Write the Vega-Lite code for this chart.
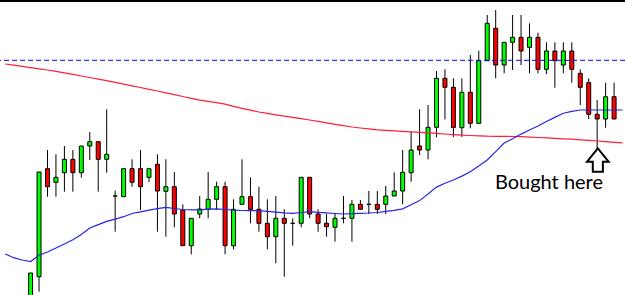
{
  "$schema": "https://vega.github.io/schema/vega-lite/v6.json",
  "width": 625,
  "height": 295,
  "padding": 0,
  "autosize": {"type": "none"},
  "background": "#ffffff",
  "config": {"view": {"stroke": null}},
  "datasets": {
    "candles": [
      {"i":1,"open":2,"high":27,"low":-2,"close":27},
      {"i":2,"open":23.3,"high":128,"low":8.3,"close":128},
      {"i":3,"open":131.3,"high":150,"low":103.3,"close":113.3},
      {"i":4,"open":117.7,"high":145.7,"low":103.3,"close":122.7},
      {"i":5,"open":127.3,"high":154,"low":108.3,"close":140.7},
      {"i":6,"open":140.7,"high":150,"low":108.3,"close":127.3},
      {"i":7,"open":127.3,"high":154,"low":122.3,"close":154},
      {"i":8,"open":154,"high":168,"low":140,"close":158.3},
      {"i":9,"open":158.3,"high":158.3,"low":108.3,"close":140.7},
      {"i":10,"open":140.7,"high":190.7,"low":127.3,"close":145.7},
      {"i":11,"open":104,"high":109.3,"low":68.3,"close":104},
      {"i":12,"open":103.3,"high":131.3,"low":103.3,"close":131.3},
      {"i":13,"open":131.3,"high":140.7,"low":113.3,"close":117.7},
      {"i":14,"open":131.3,"high":150,"low":90,"close":113.3},
      {"i":15,"open":122.7,"high":131.3,"low":117.7,"close":131.3},
      {"i":16,"open":135.7,"high":145.7,"low":68.3,"close":109},
      {"i":17,"open":108.7,"high":140.7,"low":63.3,"close":113.3},
      {"i":18,"open":113.3,"high":128,"low":72.7,"close":86},
      {"i":19,"open":90,"high":95.7,"low":54.3,"close":54.3},
      {"i":20,"open":54.3,"high":81.7,"low":45.7,"close":81.7},
      {"i":21,"open":86,"high":104,"low":81.7,"close":91},
      {"i":22,"open":90.7,"high":128,"low":81.7,"close":100.7},
      {"i":23,"open":100.7,"high":118.3,"low":90,"close":113.3},
      {"i":24,"open":113.3,"high":118.3,"low":45.7,"close":54.3},
      {"i":25,"open":54.3,"high":100.7,"low":50.7,"close":90.7},
      {"i":26,"open":95.7,"high":140.7,"low":95.7,"close":103.3},
      {"i":27,"open":103.3,"high":122.7,"low":76.7,"close":90.7},
      {"i":28,"open":90.7,"high":113.3,"low":68.3,"close":76.7},
      {"i":29,"open":76.7,"high":100.7,"low":50.7,"close":63.3},
      {"i":30,"open":63.3,"high":104,"low":36.7,"close":81.7},
      {"i":31,"open":81.7,"high":90.7,"low":23.3,"close":76.7},
      {"i":32,"open":76.7,"high":81.7,"low":54.3,"close":76.7},
      {"i":33,"open":76.7,"high":122.7,"low":72.7,"close":122.7},
      {"i":34,"open":122.7,"high":122.7,"low":81.7,"close":86},
      {"i":35,"open":86,"high":90.7,"low":68.3,"close":76.7},
      {"i":36,"open":76.7,"high":86,"low":63.3,"close":73.3},
      {"i":37,"open":72.7,"high":86,"low":58.3,"close":81.7},
      {"i":38,"open":81.7,"high":104,"low":76.7,"close":81.7},
      {"i":39,"open":81.7,"high":100,"low":58.3,"close":95.7},
      {"i":40,"open":95.7,"high":100,"low":90.7,"close":90.7},
      {"i":41,"open":95.7,"high":109,"low":86,"close":95.7},
      {"i":42,"open":95.7,"high":109,"low":86,"close":90.7},
      {"i":43,"open":95.7,"high":114,"low":86,"close":104},
      {"i":44,"open":104,"high":127.7,"low":104,"close":109},
      {"i":45,"open":109,"high":150,"low":95.7,"close":127.7},
      {"i":46,"open":127.3,"high":168.3,"low":118.3,"close":150},
      {"i":47,"open":154,"high":190.7,"low":145,"close":150},
      {"i":48,"open":150,"high":195,"low":140.7,"close":172.7},
      {"i":49,"open":172.7,"high":229,"low":162.7,"close":221.7},
      {"i":50,"open":221.7,"high":230.7,"low":180.5,"close":212.7},
      {"i":51,"open":212.7,"high":221.7,"low":163,"close":172.5},
      {"i":52,"open":172.3,"high":221.7,"low":163,"close":207.7},
      {"i":53,"open":207.7,"high":245,"low":171.7,"close":176.7},
      {"i":54,"open":176.7,"high":249.3,"low":176.7,"close":239.3},
      {"i":55,"open":239.3,"high":285,"low":239.3,"close":276.7},
      {"i":56,"open":271.7,"high":290,"low":221.7,"close":235},
      {"i":57,"open":235,"high":257.7,"low":226.7,"close":257.7},
      {"i":58,"open":257.7,"high":285,"low":230,"close":262.7},
      {"i":59,"open":262.7,"high":285,"low":235,"close":249},
      {"i":60,"open":252.7,"high":276.7,"low":226.7,"close":262.7},
      {"i":61,"open":262.7,"high":267.3,"low":226.7,"close":230.7},
      {"i":62,"open":230.7,"high":257.7,"low":226,"close":249},
      {"i":63,"open":249,"high":257.7,"low":212.3,"close":239.3},
      {"i":64,"open":235,"high":257.7,"low":226.7,"close":249},
      {"i":65,"open":249,"high":257.7,"low":217.3,"close":230.7},
      {"i":66,"open":226.7,"high":230.7,"low":195,"close":212.7},
      {"i":67,"open":217.3,"high":221.7,"low":181,"close":185.7},
      {"i":68,"open":185.7,"high":200,"low":150.7,"close":181},
      {"i":69,"open":181,"high":217.3,"low":172.3,"close":203.3},
      {"i":70,"open":203.3,"high":217.3,"low":181,"close":181}
    ],
    "ma": [
      {"i":-2,"slow":236,"fast":46},
      {"i":-1,"slow":234.8,"fast":42.3},
      {"i":0,"slow":233.6,"fast":40},
      {"i":1,"slow":232.4,"fast":38.5},
      {"i":2,"slow":231.2,"fast":44.7},
      {"i":3,"slow":230,"fast":48},
      {"i":4,"slow":228.7,"fast":52},
      {"i":5,"slow":227.1,"fast":56},
      {"i":6,"slow":225.6,"fast":60.3},
      {"i":7,"slow":224,"fast":65.5},
      {"i":8,"slow":222.5,"fast":72},
      {"i":9,"slow":220.9,"fast":75.4},
      {"i":10,"slow":219.3,"fast":78.6},
      {"i":11,"slow":217.6,"fast":80.9},
      {"i":12,"slow":215.9,"fast":83.3},
      {"i":13,"slow":214.2,"fast":86.5},
      {"i":14,"slow":212.5,"fast":88.2},
      {"i":15,"slow":210.7,"fast":89.9},
      {"i":16,"slow":209,"fast":91.3},
      {"i":17,"slow":207.2,"fast":92.6},
      {"i":18,"slow":205.3,"fast":91.5},
      {"i":19,"slow":203.5,"fast":90.5},
      {"i":20,"slow":201.6,"fast":90.2},
      {"i":21,"slow":199.8,"fast":90.2},
      {"i":22,"slow":198.6,"fast":90.8},
      {"i":23,"slow":197.4,"fast":91.1},
      {"i":24,"slow":195.8,"fast":90.5},
      {"i":25,"slow":193.7,"fast":89.8},
      {"i":26,"slow":191.7,"fast":89.5},
      {"i":27,"slow":189.8,"fast":89.4},
      {"i":28,"slow":188,"fast":89.3},
      {"i":29,"slow":186.7,"fast":88.7},
      {"i":30,"slow":185.2,"fast":87.9},
      {"i":31,"slow":183.8,"fast":87.1},
      {"i":32,"slow":182.6,"fast":86.7},
      {"i":33,"slow":181.3,"fast":87.5},
      {"i":34,"slow":180,"fast":88.3},
      {"i":35,"slow":178.6,"fast":87.6},
      {"i":36,"slow":177.1,"fast":87.1},
      {"i":37,"slow":175.7,"fast":86.5},
      {"i":38,"slow":174.3,"fast":86},
      {"i":39,"slow":173,"fast":86.4},
      {"i":40,"slow":172,"fast":86.7},
      {"i":41,"slow":171.1,"fast":87},
      {"i":42,"slow":170.2,"fast":87.5},
      {"i":43,"slow":169.6,"fast":88.6},
      {"i":44,"slow":169.1,"fast":89.7},
      {"i":45,"slow":168.6,"fast":91.2},
      {"i":46,"slow":168.2,"fast":95.2},
      {"i":47,"slow":167.6,"fast":99.4},
      {"i":48,"slow":167.1,"fast":106},
      {"i":49,"slow":166.6,"fast":112.9},
      {"i":50,"slow":166,"fast":116.7},
      {"i":51,"slow":165.4,"fast":120},
      {"i":52,"slow":164.9,"fast":123.9},
      {"i":53,"slow":164.5,"fast":128.3},
      {"i":54,"slow":164.1,"fast":134.1},
      {"i":55,"slow":163.8,"fast":140},
      {"i":56,"slow":163.7,"fast":148.4},
      {"i":57,"slow":163.6,"fast":157},
      {"i":58,"slow":163.5,"fast":161.2},
      {"i":59,"slow":163.3,"fast":165.9},
      {"i":60,"slow":162.9,"fast":170},
      {"i":61,"slow":162.5,"fast":174},
      {"i":62,"slow":162.1,"fast":178.5},
      {"i":63,"slow":161.6,"fast":182.6},
      {"i":64,"slow":161.2,"fast":186.8},
      {"i":65,"slow":160.8,"fast":188.7},
      {"i":66,"slow":160.2,"fast":190},
      {"i":67,"slow":159.6,"fast":190},
      {"i":68,"slow":159,"fast":190},
      {"i":69,"slow":158.4,"fast":190},
      {"i":70,"slow":157.7,"fast":190},
      {"i":71,"slow":157.1,"fast":190}
    ],
    "levels": [
      {"level": 239.7, "kind": "resistance"}
    ],
    "frame": [
      {"top": 300}
    ],
    "notes": [
      {"i":68.08,"v":140,"label":"Bought here","ti":62.3,"tv":110.7}
    ]
  },
  "layer": [
    {
      "data": {"name": "candles"},
      "mark": {"type": "rule", "color": "#000000", "strokeWidth": 1, "clip": true},
      "encoding": {
        "x": {"field": "i", "type": "quantitative", "axis": null,
              "scale": {"domain": [-2.025, 70.7], "nice": false, "zero": false}},
        "y": {"field": "low", "type": "quantitative", "axis": null,
              "scale": {"domain": [5, 300], "nice": false, "zero": false}},
        "y2": {"field": "high"}
      }
    },
    {
      "data": {"name": "candles"},
      "mark": {"type": "bar", "width": 4, "stroke": "#000000", "strokeWidth": 1, "clip": true},
      "encoding": {
        "x": {"field": "i", "type": "quantitative"},
        "y": {"field": "open", "type": "quantitative"},
        "y2": {"field": "close"},
        "fill": {"condition": {"test": "datum.close >= datum.open", "value": "#00ff00"}, "value": "#ff0000"}
      }
    },
    {
      "data": {"name": "ma"},
      "mark": {"type": "line", "color": "#ff1f3a", "strokeWidth": 1.2, "clip": true},
      "encoding": {
        "x": {"field": "i", "type": "quantitative"},
        "y": {"field": "slow", "type": "quantitative"}
      }
    },
    {
      "data": {"name": "ma"},
      "mark": {"type": "line", "color": "#2626e6", "strokeWidth": 1.2, "clip": true},
      "encoding": {
        "x": {"field": "i", "type": "quantitative"},
        "y": {"field": "fast", "type": "quantitative"}
      }
    },
    {
      "data": {"name": "levels"},
      "mark": {"type": "rule", "color": "#0000ff", "strokeWidth": 1, "strokeDash": [5, 3]},
      "encoding": {"y": {"field": "level", "type": "quantitative"}}
    },
    {
      "data": {"name": "frame"},
      "mark": {"type": "rule", "color": "#000000", "strokeWidth": 4},
      "encoding": {"y": {"field": "top", "type": "quantitative"}}
    },
    {
      "data": {"name": "notes"},
      "mark": {"type": "point", "shape": "M0,-0.975 L0.9,0.14 L0.42,0.14 L0.42,0.975 L-0.42,0.975 L-0.42,0.14 L-0.9,0.14 Z",
               "size": 576, "filled": true, "fill": "#ffffff", "stroke": "#000000", "strokeWidth": 2, "opacity": 1},
      "encoding": {
        "x": {"field": "i", "type": "quantitative"},
        "y": {"field": "v", "type": "quantitative"}
      }
    },
    {
      "data": {"name": "notes"},
      "mark": {"type": "text", "font": "Lato", "fontSize": 20, "align": "center", "baseline": "alphabetic", "color": "#000000"},
      "encoding": {
        "x": {"field": "ti", "type": "quantitative"},
        "y": {"field": "tv", "type": "quantitative"},
        "text": {"field": "label"}
      }
    }
  ]
}
